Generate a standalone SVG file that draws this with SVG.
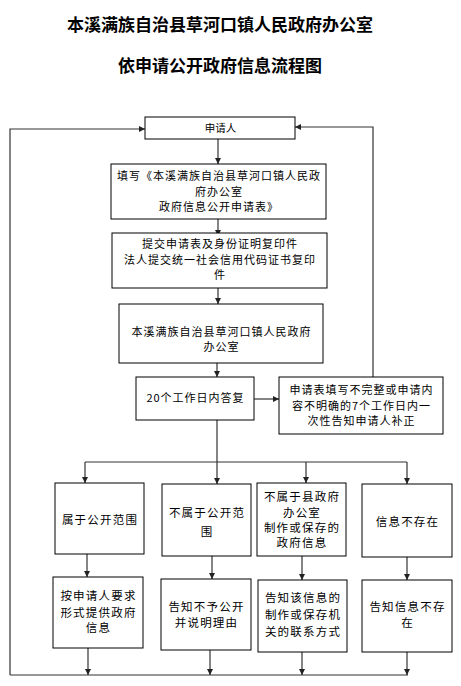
<svg xmlns="http://www.w3.org/2000/svg" width="461" height="686" viewBox="0 0 461 686">
<style>
.title{font-family:"Liberation Serif","Noto Sans CJK SC",serif;font-size:17px;font-weight:bold;fill:#000;text-anchor:middle}
.t{font-family:"Noto Sans CJK SC","Noto Sans CJK TC",sans-serif;font-size:11px;letter-spacing:1px;fill:#000;text-anchor:middle}
.t2{font-family:"Noto Sans CJK SC","Noto Sans CJK TC",sans-serif;font-size:11.5px;letter-spacing:1.2px;fill:#000;text-anchor:middle}
.box{fill:#fff;stroke:#000;stroke-width:1}
.c{fill:none;stroke:#333;stroke-width:1.2}
.ca{fill:none;stroke:#333;stroke-width:1.2;marker-end:url(#ah)}
</style>
<defs>
<marker id="ah" markerUnits="userSpaceOnUse" markerWidth="8" markerHeight="8" refX="6" refY="3" orient="auto">
<path d="M0,0 L6,3 L0,6 Z" fill="#222"/>
</marker>
</defs>
<rect width="461" height="686" fill="#fff"/>
<g id="title">
<text class="title" x="220" y="31">本溪满族自治县草河口镇人民政府办公室</text>
<text class="title" x="220" y="72">依申请公开政府信息流程图</text>
</g>
<g id="connectors">
<line class="ca" x1="218" y1="139" x2="218" y2="164"/>
<line class="ca" x1="218" y1="219" x2="218" y2="236"/>
<line class="ca" x1="218" y1="288" x2="218" y2="304"/>
<line class="ca" x1="217" y1="363" x2="217" y2="377"/>
<line class="ca" x1="254" y1="399" x2="279" y2="399"/>
<polyline class="ca" points="373,377 373,127 295,127"/>
<polyline class="ca" points="10,675 10,129 145,129"/>
<line class="c" x1="10" y1="675" x2="408" y2="675"/>
<line class="c" x1="217" y1="420" x2="217" y2="462"/>
<line class="c" x1="85" y1="462" x2="407" y2="462"/>
<line class="ca" x1="85" y1="462" x2="85" y2="483"/>
<line class="ca" x1="217" y1="462" x2="217" y2="484"/>
<line class="ca" x1="306" y1="462" x2="306" y2="483"/>
<line class="ca" x1="407" y1="462" x2="407" y2="484"/>
<line class="ca" x1="87" y1="554" x2="87" y2="577"/>
<line class="ca" x1="212" y1="556" x2="212" y2="579"/>
<line class="ca" x1="302" y1="556" x2="302" y2="580"/>
<line class="ca" x1="407" y1="557" x2="407" y2="580"/>
<line class="ca" x1="88" y1="648" x2="88" y2="675"/>
<line class="ca" x1="210" y1="650" x2="210" y2="675"/>
<line class="ca" x1="302" y1="652" x2="302" y2="675"/>
<line class="ca" x1="407" y1="652" x2="407" y2="675"/>
</g>
<g id="n1">
<rect class="box" x="145" y="117" width="150" height="22"/>
<text class="t" x="220.5" y="132" style="letter-spacing:0;font-size:10.5px">申请人</text>
</g>
<g id="n2">
<rect class="box" x="111" y="164" width="215" height="55"/>
<text class="t" x="219" y="180">填写《本溪满族自治县草河口镇人民政</text>
<text class="t" x="219" y="196">府办公室</text>
<text class="t" x="219" y="211">政府信息公开申请表》</text>
</g>
<g id="n3">
<rect class="box" x="112" y="233" width="215" height="55"/>
<text class="t" x="220" y="248">提交申请表及身份证明复印件</text>
<text class="t" x="220" y="264">法人提交统一社会信用代码证书复印</text>
<text class="t" x="220" y="279">件</text>
</g>
<g id="n4">
<rect class="box" x="119" y="304" width="204" height="59"/>
<text class="t" x="221.5" y="336">本溪满族自治县草河口镇人民政府</text>
<text class="t" x="221.5" y="351">办公室</text>
</g>
<g id="n5">
<rect class="box" x="136" y="377" width="118" height="43"/>
<text class="t" x="195.5" y="402">20个工作日内答复</text>
</g>
<g id="n6">
<rect class="box" x="279" y="377" width="164" height="57"/>
<text class="t" x="361.5" y="394">申请表填写不完整或申请内</text>
<text class="t" x="361.5" y="410">容不明确的7个工作日内一</text>
<text class="t" x="361.5" y="425">次性告知申请人补正</text>
</g>
<g id="a1">
<rect class="box" x="55" y="483" width="89" height="71"/>
<text class="t2" x="100" y="524">属于公开范围</text>
</g>
<g id="b1">
<rect class="box" x="162" y="484" width="89" height="72"/>
<text class="t2" x="207" y="517">不属于公开范</text>
<text class="t2" x="207" y="536">围</text>
</g>
<g id="c1">
<rect class="box" x="257" y="483" width="89" height="73"/>
<text class="t2" x="302" y="501">不属于县政府</text>
<text class="t2" x="302" y="517">办公室</text>
<text class="t2" x="302" y="532">制作或保存的</text>
<text class="t2" x="302" y="547">政府信息</text>
</g>
<g id="d1">
<rect class="box" x="362" y="484" width="90" height="73"/>
<text class="t2" x="407.5" y="526">信息不存在</text>
</g>
<g id="a2">
<rect class="box" x="53" y="577" width="90" height="71"/>
<text class="t2" x="98.5" y="600">按申请人要求</text>
<text class="t2" x="98.5" y="617">形式提供政府</text>
<text class="t2" x="98.5" y="632">信息</text>
</g>
<g id="b2">
<rect class="box" x="161" y="579" width="90" height="71"/>
<text class="t2" x="206.5" y="611">告知不予公开</text>
<text class="t2" x="206.5" y="627">并说明理由</text>
</g>
<g id="c2">
<rect class="box" x="258" y="580" width="89" height="72"/>
<text class="t2" x="303" y="602">告知该信息的</text>
<text class="t2" x="303" y="619">制作或保存机</text>
<text class="t2" x="303" y="636">关的联系方式</text>
</g>
<g id="d2">
<rect class="box" x="362" y="580" width="90" height="72"/>
<text class="t2" x="407.5" y="611">告知信息不存</text>
<text class="t2" x="407.5" y="627">在</text>
</g>
</svg>
